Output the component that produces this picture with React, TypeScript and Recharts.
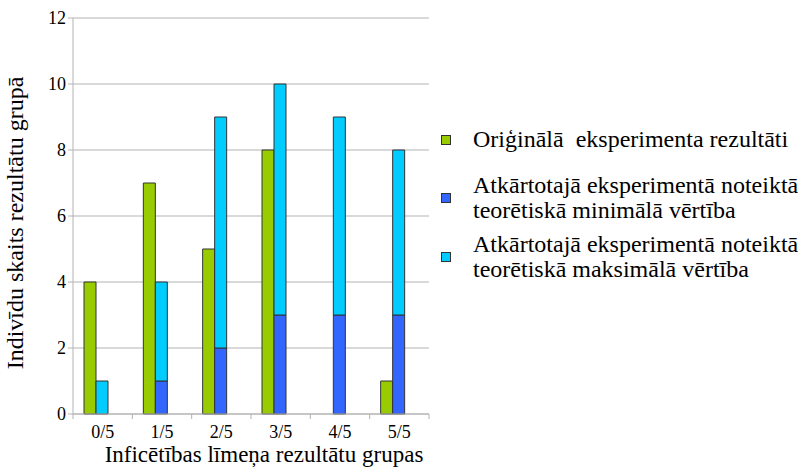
import { BarChart, Bar, XAxis, YAxis, CartesianGrid, Label } from 'recharts'

const groups = ['0/5', '1/5', '2/5', '3/5', '4/5', '5/5']
const original = [4, 7, 5, 8, 0, 1]
const minValues = [0, 1, 2, 3, 3, 3]
const maxValues = [1, 4, 9, 10, 9, 8]
const yTicks = [0, 2, 4, 6, 8, 10, 12]

const GREEN = '#99cc00'
const BLUE = '#3366ff'
const CYAN = '#00ccff'
const GRID = '#b3b3b3'
const FONT = 'Liberation Serif, Times New Roman, serif'

const legendItems = [
  { color: GREEN, top: 127, lines: ['Oriģinālā  eksperimenta rezultāti'] },
  { color: BLUE, top: 173, lines: ['Atkārtotajā eksperimentā noteiktā', 'teorētiskā minimālā vērtība'] },
  { color: CYAN, top: 232, lines: ['Atkārtotajā eksperimentā noteiktā', 'teorētiskā maksimālā vērtība'] },
]

// the cyan bar is the max, drawn behind the min, so stack the difference
const data = groups.map((g, i) => ({
  group: g,
  original: original[i],
  min: minValues[i],
  extra: maxValues[i] - minValues[i],
  pad: null,
}))

function GroupTick(props: any) {
  const { x, y, payload, index } = props
  const half = payload?.offset ?? 0
  const last = index === groups.length - 1
  return (
    <g>
      <line x1={x - half} x2={x - half} y1={y - 8} y2={y - 3} stroke={GRID} />
      {last && <line x1={x + half} x2={x + half} y1={y - 8} y2={y - 3} stroke={GRID} />}
      <text x={x} y={y + 16} textAnchor="middle" fontSize={18} fill="#000" style={{ fontFamily: FONT }}>
        {payload.value}
      </text>
    </g>
  )
}

function LegendBox() {
  return (
    <>
      {legendItems.map((item, i) => (
        <div
          key={i}
          style={{
            position: 'absolute',
            left: 441,
            top: item.top,
            display: 'flex',
            alignItems: 'center',
            fontFamily: FONT,
            fontSize: 24,
            lineHeight: '25px',
            color: '#000',
          }}
        >
          <span
            style={{
              width: 8,
              height: 8,
              background: item.color,
              border: '1px solid #333',
              marginRight: 22,
              flexShrink: 0,
            }}
          />
          <div>
            {item.lines.map((l, j) => (
              <div key={j} style={{ whiteSpace: 'pre' }}>{l}</div>
            ))}
          </div>
        </div>
      ))}
    </>
  )
}

export default function App() {
  return (
    <div style={{ position: 'absolute', left: 0, top: 0, width: 798, height: 467, background: '#fff' }}>
      <BarChart
        width={798}
        height={467}
        data={data}
        margin={{ top: 18, right: 369, bottom: 0, left: 0 }}
        barCategoryGap={11}
        barGap={0}
        style={{ fontFamily: FONT }}
      >
        <CartesianGrid vertical={false} stroke={GRID} />
        <XAxis
          dataKey="group"
          axisLine={{ stroke: GRID }}
          tickLine={false}
          tick={<GroupTick />}
          interval={0}
          height={53}
        >
          <Label
            content={() => (
              <text x={264} y={462} textAnchor="middle" fontSize={23} fill="#000" style={{ fontFamily: FONT }}>
                Inficētības līmeņa rezultātu grupas
              </text>
            )}
          />
        </XAxis>
        <YAxis
          width={73}
          domain={[0, 12]}
          ticks={yTicks}
          axisLine={{ stroke: GRID }}
          tickLine={{ stroke: GRID }}
          tickSize={5}
          tickMargin={2}
          tick={{ fontSize: 18, fill: '#000', style: { fontFamily: FONT } }}
        >
          <Label
            content={() => (
              <text
                x={23}
                y={223}
                transform="rotate(-90 23 223)"
                textAnchor="middle"
                fontSize={24}
                fill="#000"
                style={{ fontFamily: FONT }}
              >
                Indivīdu skaits rezultātu grupā
              </text>
            )}
          />
        </YAxis>
        <Bar dataKey="original" stackId="a" fill={GREEN} stroke="#333" strokeWidth={1} isAnimationActive={false} />
        <Bar dataKey="min" stackId="b" fill={BLUE} stroke="#333" strokeWidth={1} isAnimationActive={false} />
        <Bar dataKey="extra" stackId="b" fill={CYAN} stroke="#333" strokeWidth={1} isAnimationActive={false} />
        <Bar dataKey="pad" stackId="c" fill="none" isAnimationActive={false} />
      </BarChart>
      <LegendBox />
    </div>
  )
}
